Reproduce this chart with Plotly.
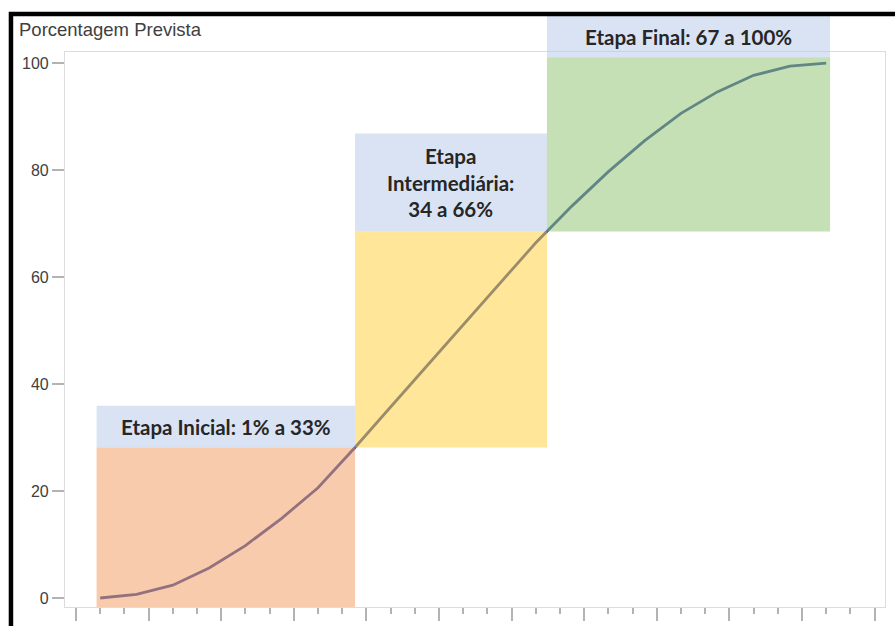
import numpy as np
import plotly.graph_objects as go

# Predicted percentage curve
x_vals = [1, 2.5, 4, 5.5, 7, 8.5, 10, 11.5, 13, 14.5, 16, 17.5, 19, 20.5,
          22, 23.5, 25, 26.5, 28, 29.5, 31]
y_vals = [0, 0.7, 2.4, 5.6, 9.8, 14.9, 20.6, 28.0, 35.7, 43.4, 51.1, 58.8,
          66.4, 73.3, 79.7, 85.5, 90.6, 94.6, 97.7, 99.4, 100.0]

# Stage boundaries along the x axis and their labels
stage_edges = [0.85, 11.53, 19.46, 31.16]
stage_labels = ["Etapa Inicial: 1% a 33%",
                "Etapa<br>Intermediária:<br>34 a 66%",
                "Etapa Final: 67 a 100%"]
stage_top = 101.1

y_ticks = [0, 20, 40, 60, 80, 100]
x_major = list(range(0, 34, 3))

# ---- layout constants ----
Y_RANGE = [-1.68, 102.06]
X_RANGE = [-0.455, 33.43]
LABEL_BAND = [7.8, 18.3, 7.7]   # height of each stage's title band (y units)
STAGE_FILLS = ["rgba(241,151,91,0.5)", "rgba(255,205,51,0.5)", "rgba(139,193,105,0.5)"]
LABEL_FILL = "rgba(181,199,231,0.5)"
GRAY = "#b3b3b3"


def to_paper(v):
    return (v - Y_RANGE[0]) / (Y_RANGE[1] - Y_RANGE[0])


fig = go.Figure()
fig.add_trace(go.Scatter(
    x=x_vals, y=y_vals, mode="lines",
    line=dict(color="rgb(55,75,160)", width=2.8),
    hoverinfo="skip", showlegend=False,
))

# corner heights where the curve meets each stage boundary
corner = list(np.interp(stage_edges[1:3], x_vals, y_vals))
fill_bottom = [Y_RANGE[0]] + corner
fill_top = corner + [stage_top]

shapes = []
annotations = []
for i in range(3):
    xa, xb = stage_edges[i], stage_edges[i + 1]
    shapes.append(dict(type="rect", xref="x", yref="y", x0=xa, x1=xb,
                       y0=fill_bottom[i], y1=fill_top[i],
                       fillcolor=STAGE_FILLS[i], line=dict(width=0), layer="above"))
    band_lo = fill_top[i]
    band_hi = fill_top[i] + LABEL_BAND[i]
    p0, p1 = to_paper(band_lo), to_paper(band_hi)
    shapes.append(dict(type="rect", xref="x", yref="paper", x0=xa, x1=xb,
                       y0=p0, y1=p1,
                       fillcolor=LABEL_FILL, line=dict(width=0), layer="above"))
    annotations.append(dict(
        x=(xa + xb) / 2, y=(p0 + p1) / 2, xref="x", yref="paper",
        text="<b>" + stage_labels[i] + "</b>", showarrow=False,
        xanchor="center", yanchor="middle", align="center",
        font=dict(family="Lato, Noto Sans, sans-serif", size=20.5, color="#262626"),
    ))

# outer black frame (top and left edges visible)
shapes.append(dict(type="rect", xref="paper", yref="paper",
                   x0=-0.0659, x1=1.3, y0=-0.4, y1=1.0685,
                   line=dict(color="black", width=4.5),
                   fillcolor="rgba(0,0,0,0)", layer="above"))

annotations.append(dict(
    x=-0.0585, y=1.0405, xref="paper", yref="paper",
    text="Porcentagem Prevista", showarrow=False,
    xanchor="left", yanchor="middle",
    font=dict(family="Liberation Sans, Arial, sans-serif", size=18.5, color="#404040"),
))

fig.update_layout(
    width=895, height=626, autosize=False,
    margin=dict(l=65, r=10, t=52, b=19, autoexpand=False),
    paper_bgcolor="white", plot_bgcolor="white",
    shapes=shapes, annotations=annotations,
    xaxis=dict(
        range=X_RANGE, showgrid=False, zeroline=False,
        showline=True, linecolor="#dcdcdc", linewidth=1.2, mirror=True,
        tickmode="array", tickvals=x_major, showticklabels=False,
        ticks="outside", ticklen=13, tickwidth=1.5, tickcolor=GRAY,
        minor=dict(dtick=1, tick0=0, ticks="outside", ticklen=6,
                   tickwidth=1.5, tickcolor=GRAY, showgrid=False),
    ),
    yaxis=dict(
        range=Y_RANGE, showgrid=False, zeroline=False,
        showline=True, linecolor="#dcdcdc", linewidth=1.2, mirror=True,
        tickmode="array", tickvals=y_ticks,
        ticks="outside", ticklen=12, tickwidth=1.5, tickcolor=GRAY,
        tickfont=dict(family="Liberation Sans, Arial, sans-serif", size=16, color="#404040"),
    ),
)

fig.write_html("out.html")
